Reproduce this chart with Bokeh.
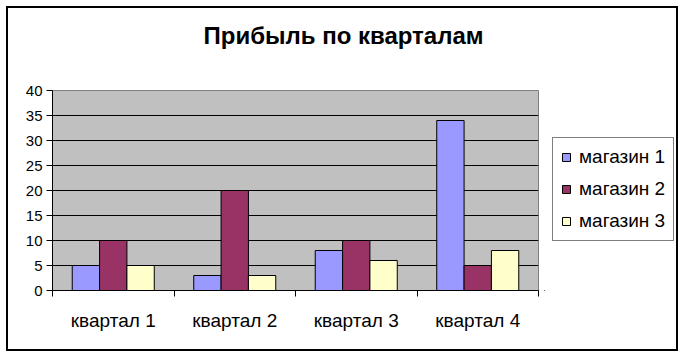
from bokeh.plotting import figure
from bokeh.models import (Range1d, FixedTicker, Legend, LegendItem,
                          ColumnDataSource, Title)
from bokeh.layouts import row
from bokeh.transform import dodge
from bokeh.embed import file_html
from bokeh.resources import INLINE

# ---- data ----
title_text = "Прибыль по кварталам"
quarters = ["квартал 1", "квартал 2", "квартал 3", "квартал 4"]
store_names = ["магазин 1", "магазин 2", "магазин 3"]
store1 = [5, 3, 8, 34]
store2 = [10, 20, 10, 5]
store3 = [5, 3, 6, 8]
colors = ["#9999FF", "#993366", "#FFFFCC"]
y_ticks = [0, 5, 10, 15, 20, 25, 30, 35, 40]

FONT = "Liberation Sans"

centers = [i + 0.5 for i in range(len(quarters))]
src = ColumnDataSource(dict(x=centers, s1=store1, s2=store2, s3=store3))

p = figure(width=536, height=341, output_backend="svg", toolbar_location=None,
           x_range=Range1d(0, len(quarters)), y_range=Range1d(0, 40),
           min_border_left=44, min_border_right=6, min_border_top=82,
           min_border_bottom=59, title=title_text)
p.background_fill_color = "#C0C0C0"
p.border_fill_color = "white"
p.outline_line_color = "#808080"
p.outline_line_width = 1

p.title.text_font = FONT
p.title.text_font_size = "24px"
p.title.text_font_style = "bold"
p.title.text_color = "black"
p.title.align = "left"
p.title.offset = 151
p.title.standoff = 10
# spacer between title and plot area
p.add_layout(Title(text=" ", text_font_size="10px", standoff=24,
                   text_color="white"), "above")

bw = 0.225
for k, (field, col) in enumerate(zip(["s1", "s2", "s3"], colors)):
    p.vbar(x=dodge("x", (k - 1) * bw, range=p.x_range), top=field, width=bw,
           bottom=0, source=src, fill_color=col, line_color="black", line_width=1)

# grid
p.xgrid.visible = False
p.ygrid.grid_line_color = "black"
p.ygrid.grid_line_width = 1
p.ygrid.ticker = FixedTicker(ticks=y_ticks)

# y axis
p.yaxis.ticker = FixedTicker(ticks=y_ticks)
p.yaxis.axis_line_color = "black"
p.yaxis.major_tick_in = 0
p.yaxis.major_tick_out = 6
p.yaxis.minor_tick_line_color = None
p.yaxis.major_label_text_font = FONT
p.yaxis.major_label_text_font_size = "15px"
p.yaxis.major_label_text_color = "black"
p.yaxis.major_label_standoff = 4

# x axis: labels at category centers, ticks at boundaries
p.xaxis.ticker = FixedTicker(ticks=centers, minor_ticks=list(range(len(quarters) + 1)))
p.xaxis.major_label_overrides = {c: q for c, q in zip(centers, quarters)}
p.xaxis.major_tick_line_color = None
p.xaxis.major_tick_in = 0
p.xaxis.major_tick_out = 0
p.xaxis.minor_tick_line_color = "black"
p.xaxis.minor_tick_in = 0
p.xaxis.minor_tick_out = 6
p.xaxis.axis_line_color = "black"
p.xaxis.major_label_text_font = FONT
p.xaxis.major_label_text_font_size = "19px"
p.xaxis.major_label_text_color = "black"
p.xaxis.major_label_standoff = 13

# legend panel (separate figure to the right)
pl = figure(width=132, height=341, output_backend="svg", toolbar_location=None,
            x_range=Range1d(0, 1), y_range=Range1d(0, 1),
            x_axis_location=None, y_axis_location=None,
            min_border_left=0, min_border_right=0, min_border_top=0, min_border_bottom=0)
pl.outline_line_color = None
pl.background_fill_color = "white"
pl.border_fill_color = "white"
pl.xgrid.visible = False
pl.ygrid.visible = False
# legend keys only: a single zero-height bar outside the visible range
key_src = ColumnDataSource(dict(x=[-5], top=[0]))
keys = [pl.vbar(x="x", top="top", bottom=0, width=0.1, source=key_src, fill_color=c,
                line_color="black", line_width=1) for c in colors]

legend = Legend(items=[LegendItem(label=n, renderers=[r]) for n, r in zip(store_names, keys)],
                location=(8, 49), padding=8, spacing=10,
                glyph_width=10, glyph_height=10, label_standoff=8, label_height=20,
                label_text_font=FONT, label_text_font_size="19px",
                label_text_color="black",
                border_line_color="black", border_line_width=1,
                background_fill_color="white", background_fill_alpha=1)
pl.add_layout(legend)

layout = row(p, pl, spacing=0)
layout.styles = {"border": "2px solid black", "margin": "6px"}

open("out.html", "w").write(file_html(layout, INLINE))
